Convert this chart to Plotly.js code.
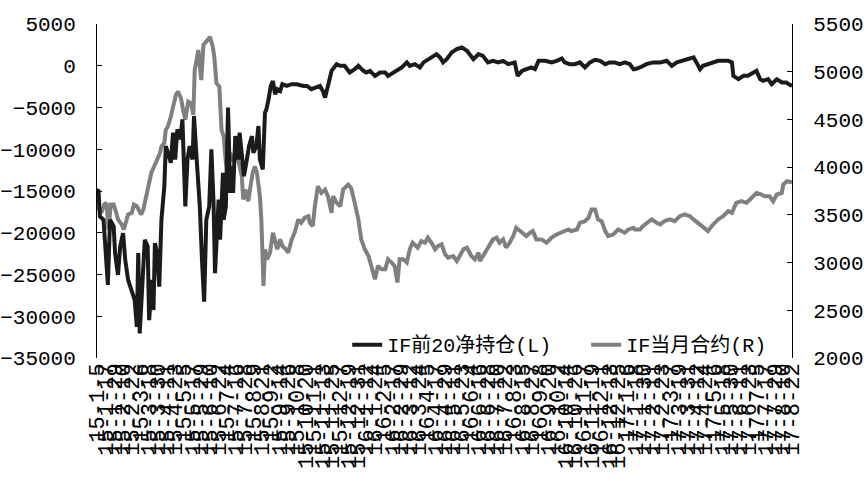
<!DOCTYPE html>
<html>
<head>
<meta charset="utf-8">
<script src="https://cdn.plot.ly/plotly-3.0.1.min.js"></script>
<style>html,body{margin:0;padding:0;background:#fff;}#chart{width:865px;height:477px;}</style>
</head>
<body>
<div id="chart"></div>
<script>
// IF前20净持仓 (left axis)
const netDates = [
"2015-01-05","2015-01-07","2015-01-09","2015-01-14","2015-01-20","2015-01-23","2015-01-28","2015-01-30",
"2015-02-03","2015-02-06","2015-02-10","2015-02-13","2015-02-17","2015-02-22","2015-02-26",
"2015-03-01","2015-03-03","2015-03-05","2015-03-10","2015-03-12","2015-03-16","2015-03-18","2015-03-22","2015-03-24","2015-03-26","2015-03-29",
"2015-04-01","2015-04-04","2015-04-08","2015-04-10","2015-04-13","2015-04-17","2015-04-20","2015-04-23","2015-04-26","2015-04-30",
"2015-05-03","2015-05-07","2015-05-10","2015-05-13","2015-05-17","2015-05-19","2015-05-23","2015-05-27","2015-05-30",
"2015-06-02","2015-06-05","2015-06-09","2015-06-12","2015-06-15","2015-06-17","2015-06-19","2015-06-22","2015-06-24","2015-06-28","2015-06-29",
"2015-07-02","2015-07-05","2015-07-08","2015-07-10","2015-07-12","2015-07-15","2015-07-17","2015-07-19","2015-07-21","2015-07-24","2015-07-27","2015-07-31",
"2015-08-03","2015-08-07","2015-08-09","2015-08-13","2015-08-16","2015-08-18","2015-08-22","2015-08-25","2015-08-27","2015-08-30",
"2015-09-02","2015-09-05","2015-09-08","2015-09-11","2015-09-15","2015-09-18","2015-09-24",
"2015-10-01","2015-10-08","2015-10-17","2015-10-22","2015-10-28",
"2015-11-04","2015-11-09","2015-11-13","2015-11-16","2015-11-20","2015-11-25",
"2015-12-02","2015-12-07","2015-12-13","2015-12-20","2015-12-27",
"2016-01-01","2016-01-08","2016-01-12","2016-01-17","2016-01-24","2016-01-31",
"2016-02-07","2016-02-11","2016-02-18","2016-02-25",
"2016-03-01","2016-03-08","2016-03-12","2016-03-19","2016-03-26","2016-03-31",
"2016-04-04","2016-04-11","2016-04-18","2016-04-23","2016-04-27",
"2016-05-02","2016-05-09","2016-05-16","2016-05-23","2016-05-30",
"2016-06-01","2016-06-08","2016-06-15","2016-06-21","2016-06-28",
"2016-07-05","2016-07-12","2016-07-19","2016-07-26",
"2016-08-04","2016-08-08","2016-08-14","2016-08-20","2016-08-27",
"2016-09-01","2016-09-06","2016-09-15","2016-09-24",
"2016-10-01","2016-10-08","2016-10-12","2016-10-19","2016-10-26",
"2016-11-02","2016-11-09","2016-11-16","2016-11-23","2016-11-30",
"2016-12-07","2016-12-13","2016-12-20","2016-12-27",
"2017-01-03","2017-01-10","2017-01-15","2017-01-17","2017-01-24",
"2017-02-02","2017-02-11","2017-02-21",
"2017-03-02","2017-03-09","2017-03-16","2017-03-25",
"2017-04-03","2017-04-08","2017-04-12","2017-04-17","2017-04-21","2017-04-28",
"2017-05-05","2017-05-12","2017-05-19","2017-05-26","2017-05-31",
"2017-06-02","2017-06-09","2017-06-16","2017-06-22","2017-06-27",
"2017-07-04","2017-07-09","2017-07-13","2017-07-20","2017-07-25",
"2017-08-01","2017-08-08","2017-08-14","2017-08-22"
];
const netValues = [
-15000,-14830,-18040,-18440,-26250,-18440,-19240,-22440,
-25050,-21650,-20040,-23250,-25650,-26850,-28050,
-31260,-22440,-32060,-25250,-20840,-21650,-30460,-25650,-29260,-21240,-22440,
-26460,-18440,-14440,-9630,-10420,-11620,-8020,-11230,-7620,-8820,
-6420,-16840,-11230,-9630,-11230,-6020,-11620,-16840,-23250,
-28260,-18440,-16840,-10020,-16430,-24850,-20040,-16030,-20840,-12830,-18440,
-16840,-5010,-15230,-12030,-15230,-8420,-10020,-11230,-8020,-11230,-13230,-11230,
-9630,-8420,-10420,-9630,-7220,-11230,-12430,-5610,-5220,-4010,
-2420,-1820,-3410,-2810,-3020,-2210,-2420,
-2210,-2210,-2420,-2420,-2810,
-2610,-2420,-3020,-3810,-2420,-610,
190,-10,-10,-810,-410,
-10,-610,-810,-610,-1210,-810,
-810,-1210,-810,-410,
-210,400,-10,190,-210,400,
590,1000,1390,1000,400,
790,1600,2000,2200,1790,
1600,790,1390,1190,400,
590,400,590,190,
400,-1210,-610,-410,-210,
-410,590,590,400,
590,880,400,190,190,
400,-210,400,710,590,
190,400,400,190,
400,190,-410,-410,-210,
190,400,400,
590,-10,400,590,
790,1000,400,-410,-10,190,
400,590,590,590,400,
-1210,-1610,-1210,-1210,-1010,
-610,-1610,-1810,-1610,-2210,
-1610,-2010,-2010,-2420
];

// IF当月合约 (right axis)
const ifDates = [
"2015-01-05","2015-01-08","2015-01-11","2015-01-15","2015-01-18","2015-01-21","2015-01-24","2015-01-28","2015-01-31",
"2015-02-03","2015-02-08","2015-02-11","2015-02-15","2015-02-17","2015-02-22","2015-02-25",
"2015-03-01","2015-03-04","2015-03-07","2015-03-10","2015-03-12","2015-03-17","2015-03-21","2015-03-24","2015-03-27","2015-03-30",
"2015-04-02","2015-04-04","2015-04-08","2015-04-10","2015-04-13","2015-04-17","2015-04-20","2015-04-24","2015-04-27",
"2015-05-01","2015-05-04","2015-05-07","2015-05-11","2015-05-15","2015-05-18","2015-05-20","2015-05-25","2015-05-29",
"2015-06-01","2015-06-05","2015-06-10","2015-06-14","2015-06-16","2015-06-19","2015-06-23","2015-06-26","2015-06-29",
"2015-07-02","2015-07-05","2015-07-08","2015-07-12","2015-07-17","2015-07-20","2015-07-24","2015-07-26","2015-07-29",
"2015-08-02","2015-08-05","2015-08-08","2015-08-11","2015-08-14","2015-08-18","2015-08-20","2015-08-23","2015-08-25","2015-08-28",
"2015-09-01","2015-09-05","2015-09-08","2015-09-11","2015-09-15","2015-09-18","2015-09-23","2015-09-26",
"2015-10-01","2015-10-05","2015-10-10","2015-10-14","2015-10-19","2015-10-24","2015-10-26","2015-10-30",
"2015-11-02","2015-11-06","2015-11-11","2015-11-16","2015-11-20","2015-11-25","2015-11-27",
"2015-12-02","2015-12-07","2015-12-11","2015-12-18","2015-12-22","2015-12-27",
"2016-01-01","2016-01-05","2016-01-10","2016-01-15","2016-01-19","2016-01-24","2016-01-28",
"2016-02-02","2016-02-07","2016-02-11","2016-02-16","2016-02-20","2016-02-24","2016-02-27",
"2016-03-03","2016-03-08","2016-03-12","2016-03-16","2016-03-23","2016-03-28",
"2016-04-02","2016-04-06","2016-04-11","2016-04-16","2016-04-20","2016-04-25","2016-04-30",
"2016-05-04","2016-05-11","2016-05-16","2016-05-20","2016-05-25","2016-05-30",
"2016-06-01","2016-06-05","2016-06-10","2016-06-15","2016-06-17","2016-06-21","2016-06-26",
"2016-07-01","2016-07-05","2016-07-10","2016-07-14","2016-07-19","2016-07-23","2016-07-28",
"2016-08-02","2016-08-06","2016-08-11","2016-08-16","2016-08-20","2016-08-25","2016-08-29",
"2016-09-03","2016-09-10","2016-09-17","2016-09-24",
"2016-10-01","2016-10-08","2016-10-12","2016-10-17","2016-10-21","2016-10-29",
"2016-11-02","2016-11-09","2016-11-14","2016-11-18","2016-11-23","2016-11-27",
"2016-12-02","2016-12-07","2016-12-11","2016-12-18","2016-12-25","2016-12-29",
"2017-01-03","2017-01-08","2017-01-15","2017-01-17","2017-01-24","2017-01-28",
"2017-02-02","2017-02-09","2017-02-16","2017-02-21","2017-02-27",
"2017-03-06","2017-03-13","2017-03-20","2017-03-27",
"2017-04-03","2017-04-11","2017-04-17","2017-04-24","2017-04-28",
"2017-05-03","2017-05-07","2017-05-12","2017-05-19","2017-05-26","2017-05-31",
"2017-06-06","2017-06-13","2017-06-20","2017-06-25","2017-06-29",
"2017-07-04","2017-07-11","2017-07-15","2017-07-22","2017-07-27",
"2017-08-01","2017-08-08","2017-08-10","2017-08-15","2017-08-22"
];
const ifValues = [
3695,3556,3522,3608,3626,3347,3608,3608,3538,
3452,3400,3347,3452,3504,3522,3608,
3591,3556,3504,3556,3626,3835,3939,3991,4044,4113,
4148,4217,4252,4391,4426,4530,4635,4757,4791,
4722,4600,4496,4687,4670,4548,5018,5227,4913,
5280,5313,5365,5261,5157,4879,4843,4391,4321,
4044,3939,4148,4078,4113,4044,3904,3661,3765,
3643,3800,3939,4008,3939,3695,3452,2755,3139,3034,
3104,3313,3243,3139,3243,3173,3139,3104,
3243,3313,3452,3417,3470,3486,3417,3382,
3591,3800,3730,3765,3695,3522,3695,
3626,3591,3765,3817,3783,3626,
3452,3243,3139,3069,2965,2825,2965,
2930,2930,3034,3000,2965,2791,3034,
3034,3000,3139,3208,3156,3225,
3208,3261,3208,3139,3173,3191,3086,
3052,3069,3016,3069,3139,3156,
3121,3069,3034,3104,3016,3069,3139,
3191,3243,3261,3208,3243,3156,3208,
3278,3365,3330,3295,3278,3313,3330,
3243,3243,3208,3261,
3295,3313,3330,3347,3330,3347,
3417,3434,3470,3556,3556,3452,
3434,3330,3278,3295,3347,3330,
3313,3347,3365,3347,3347,3382,
3417,3452,3417,3400,3434,
3452,3434,3486,3504,
3486,3434,3400,3365,3330,
3382,3417,3452,3486,3539,3522,
3626,3643,3626,3661,3695,
3730,3713,3695,3695,3643,
3713,3730,3817,3852,3841
];

const seriesNames = ["IF前20净持仓(L)", "IF当月合约(R)"];
const leftTicks = [-35000,-30000,-25000,-20000,-15000,-10000,-5000,0,5000];
const leftLabels = ["−35000","−30000","−25000","−20000","−15000","−10000","−5000","0","5000"];
const rightTicks = [2000,2500,3000,3500,4000,4500,5000,5500];
const rightLabels = ["2000","2500","3000","3500","4000","4500","5000","5500"];

const tickFont = {family: "Liberation Mono, DejaVu Sans Mono, monospace", size: 21, color: "#000"};

const traces = [
  {x: netDates, y: netValues, name: seriesNames[0], type: "scatter", mode: "lines",
   yaxis: "y2", line: {color: "#1b1b1b", width: 4}},
  {x: ifDates, y: ifValues, name: seriesNames[1], type: "scatter", mode: "lines",
   yaxis: "y", line: {color: "#808080", width: 4}}
];

const layout = {
  width: 865, height: 477,
  margin: {l: 97, r: 73, t: 24, b: 119},
  paper_bgcolor: "#fff", plot_bgcolor: "#fff",
  showlegend: true,
  legend: {orientation: "h", x: 0.36, xanchor: "left", y: 0.04, yanchor: "middle",
           font: {family: "Liberation Mono, Noto Sans CJK SC", size: 20, color: "#000"},
           bgcolor: "rgba(0,0,0,0)", entrywidth: 194, entrywidthmode: "pixels"},
  xaxis: {type: "date", range: ["2015-01-05", "2017-08-22"],
          tickmode: "linear", tick0: "2015-01-05", dtick: 12 * 86400000,
          tickformat: "%y-%-m-%-d", tickangle: -90,
          tickfont: {family: "Liberation Mono, DejaVu Sans Mono, monospace", size: 22, color: "#000"},
          showline: false, ticks: "", showgrid: false, zeroline: false, automargin: false},
  yaxis: {side: "right", range: [2000, 5500], tickmode: "array", tickvals: rightTicks, ticktext: rightLabels,
          showline: true, linecolor: "#000", linewidth: 1, ticks: "inside", ticklen: 5, tickcolor: "#000",
          showgrid: false, zeroline: false, tickfont: tickFont, ticklabelstandoff: 16, automargin: false},
  yaxis2: {side: "left", overlaying: "y", range: [-35000, 5000], tickmode: "array", tickvals: leftTicks, ticktext: leftLabels,
          showline: true, linecolor: "#000", linewidth: 1, ticks: "inside", ticklen: 5, tickcolor: "#000",
          showgrid: false, zeroline: false, tickfont: tickFont, ticklabelstandoff: 16, automargin: false}
};

Plotly.newPlot("chart", traces, layout, {displayModeBar: false, staticPlot: true});
</script>
</body>
</html>
